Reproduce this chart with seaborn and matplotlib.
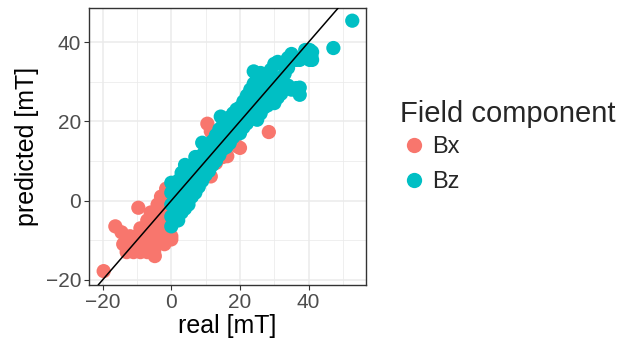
import matplotlib
matplotlib.use("Agg")
import matplotlib.pyplot as plt
from matplotlib.lines import Line2D
import seaborn as sns
import pandas as pd

# Bx: real vs predicted (mT)
bx_real = [-19.7, -16.3, -9.6, -4.8, 0.0,
           -13, -11, -9, -7, -5,
           -14, -12, -10, -8, -6, -4, -2,
           -12, -10, -8, -6, -4, -2, 0,
           -14.5, -9, -7, -5, -3, -1,
           -7, -5, -3, -1,
           -6, -4, -2,
           -4, -2, -3, -1, -1.5,
           1.5, 3.0, 5.0, 7.0, 9.0, 11.5, 13.0, 15.0, 16.3, 19.2, 20.0,
           10.5, 11.5, 28.4, 12.5]
bx_pred = [-17.8, -6.5, -1.8, -14.0, -9.8,
           -13, -13, -13, -13, -13,
           -11, -11, -11, -11, -11, -11, -11,
           -9, -9, -9, -9, -9, -9, -9,
           -8, -7, -7, -7, -7, -7,
           -5, -5, -5, -5,
           -3, -3, -3,
           -1, -1, 1, 1, 3,
           -1.5, 1.5, 2.5, 4.0, 5.5, 6.1, 9.5, 11.0, 11.2, 13.7, 13.3,
           19.4, 17.5, 17.3, 13.0]

# Bz: real vs predicted (mT)
bz_real = [0, 0, 0, 0, 0, 1, 1, 1, 2, 2, 2, 2, 3, 3, 3, 3, 4, 4, 4, 4,
           5, 5, 5, 5, 6, 6, 6, 7, 7, 7, 7, 8, 8, 8, 9, 9, 9, 9,
           10, 10, 10, 11, 11, 11, 12, 12, 12, 13, 13, 13,
           14, 14, 14, 14.4, 15, 15, 15, 16, 16, 16, 17, 17, 17,
           18, 18, 18, 19, 19, 19, 20, 20, 20, 21, 21, 21, 22, 22, 22,
           23, 23, 23, 24, 24, 24, 24, 25, 25, 25, 25, 26, 26, 26, 26,
           27, 27, 27, 28, 28, 28, 29, 29, 29, 30, 30, 30, 30,
           31, 31, 31, 32, 32, 32, 33, 33, 33, 34, 34, 34,
           35, 35, 35, 36.4, 36.4, 37.4, 37.4, 37.4, 38, 39, 39,
           40.3, 40.3, 40.8, 41, 41, 47.2, 52.7]
bz_pred = [-6.5, -4, -1, 2, 4.5, -5, 0, 3, -5, -2, 1, 5, -3, 0.5, 3.5, 7,
           -2, 2, 5, 9, -1, 3, 6, 8.5, 1, 4, 7, 2, 5, 8, 11, 3.5, 7, 10,
           5, 8, 11.5, 14.6, 6.5, 9.5, 13, 7.5, 11, 14, 9, 12, 15,
           10, 13.5, 16.5, 11.5, 15, 18, 21.2, 13, 16, 19, 13.5, 17, 20,
           14.5, 18, 21, 16, 19, 22, 17, 20, 23, 17, 21, 23.5, 18.5, 22,
           25, 19.5, 23, 26.5, 20.5, 24.5, 28, 21, 26, 29.5, 32.6,
           20.4, 24, 27.5, 31, 22, 26, 29.5, 32.2, 23.5, 27, 31,
           24, 28, 32, 25, 29, 33, 24.6, 28, 31, 34.5, 26, 30, 35,
           27, 31, 34.5, 28.5, 32, 35, 29, 33.5, 36, 28, 35.5, 37,
           28.4, 35.5, 26.7, 28.5, 35.5, 36, 36, 38, 38, 35.5, 36.4,
           37.5, 35.5, 38.5, 45.4]

df = pd.DataFrame({
    "real": bx_real + bz_real,
    "predicted": bx_pred + bz_pred,
    "Field component": ["Bx"] * len(bx_real) + ["Bz"] * len(bz_real),
})

sns.set_style("white")
plt.rcParams["font.family"] = ["Liberation Sans", "DejaVu Sans"]

fig = plt.figure(figsize=(6.22, 3.44), dpi=100)
ax = fig.add_axes([89 / 622, 59 / 344, 277 / 622, 277 / 344])

palette = {"Bx": "#F8766D", "Bz": "#00BFC4"}
sns.scatterplot(data=df, x="real", y="predicted", hue="Field component",
                palette=palette, s=105, linewidth=0, alpha=1, ax=ax,
                zorder=3, legend=False)
ax.axline((0, 0), slope=1, color="black", lw=1.1, zorder=4)

ax.set_xlim(-23.97, 56.7)
ax.set_ylim(-21.3, 48.6)
ax.set_xticks([-20, 0, 20, 40])
ax.set_yticks([-20, 0, 20, 40])
ax.set_xticks([-10, 10, 30, 50], minor=True)
ax.set_yticks([-10, 10, 30], minor=True)
ax.set_xticklabels(["\u221220", "0", "20", "40"])
ax.set_yticklabels(["\u221220", "0", "20", "40"])
ax.grid(True, which="major", color="#EBEBEB", lw=1.1, zorder=0)
ax.grid(True, which="minor", color="#EBEBEB", lw=0.55, zorder=0)
ax.set_axisbelow(True)
for sp in ax.spines.values():
    sp.set_color("#333333")
    sp.set_linewidth(1.0)
ax.tick_params(which="major", length=3.5, width=0.8, color="#333333",
               labelsize=15, labelcolor="#4D4D4D", pad=2,
               bottom=True, left=True)
ax.tick_params(which="minor", length=0)
ax.set_xlabel("real [mT]", fontsize=18, color="black", labelpad=2)
ax.set_ylabel("predicted [mT]", fontsize=18, color="black", labelpad=5)

# legend
handles = [Line2D([], [], marker="o", ls="", color=palette[k], markersize=11,
                  markeredgewidth=0, label=k) for k in ["Bx", "Bz"]]
leg = fig.legend(handles=handles, title="Field component", frameon=False,
                 loc="upper left", bbox_to_anchor=(400 / 622, 1 - 100 / 344),
                 fontsize=17, title_fontsize=21, handletextpad=0.17,
                 labelspacing=0.55, borderaxespad=0, handlelength=1.2,
                 borderpad=0)
leg._legend_box.align = "left"
leg._legend_box.sep = 6

fig.savefig("out.png", dpi=100)
